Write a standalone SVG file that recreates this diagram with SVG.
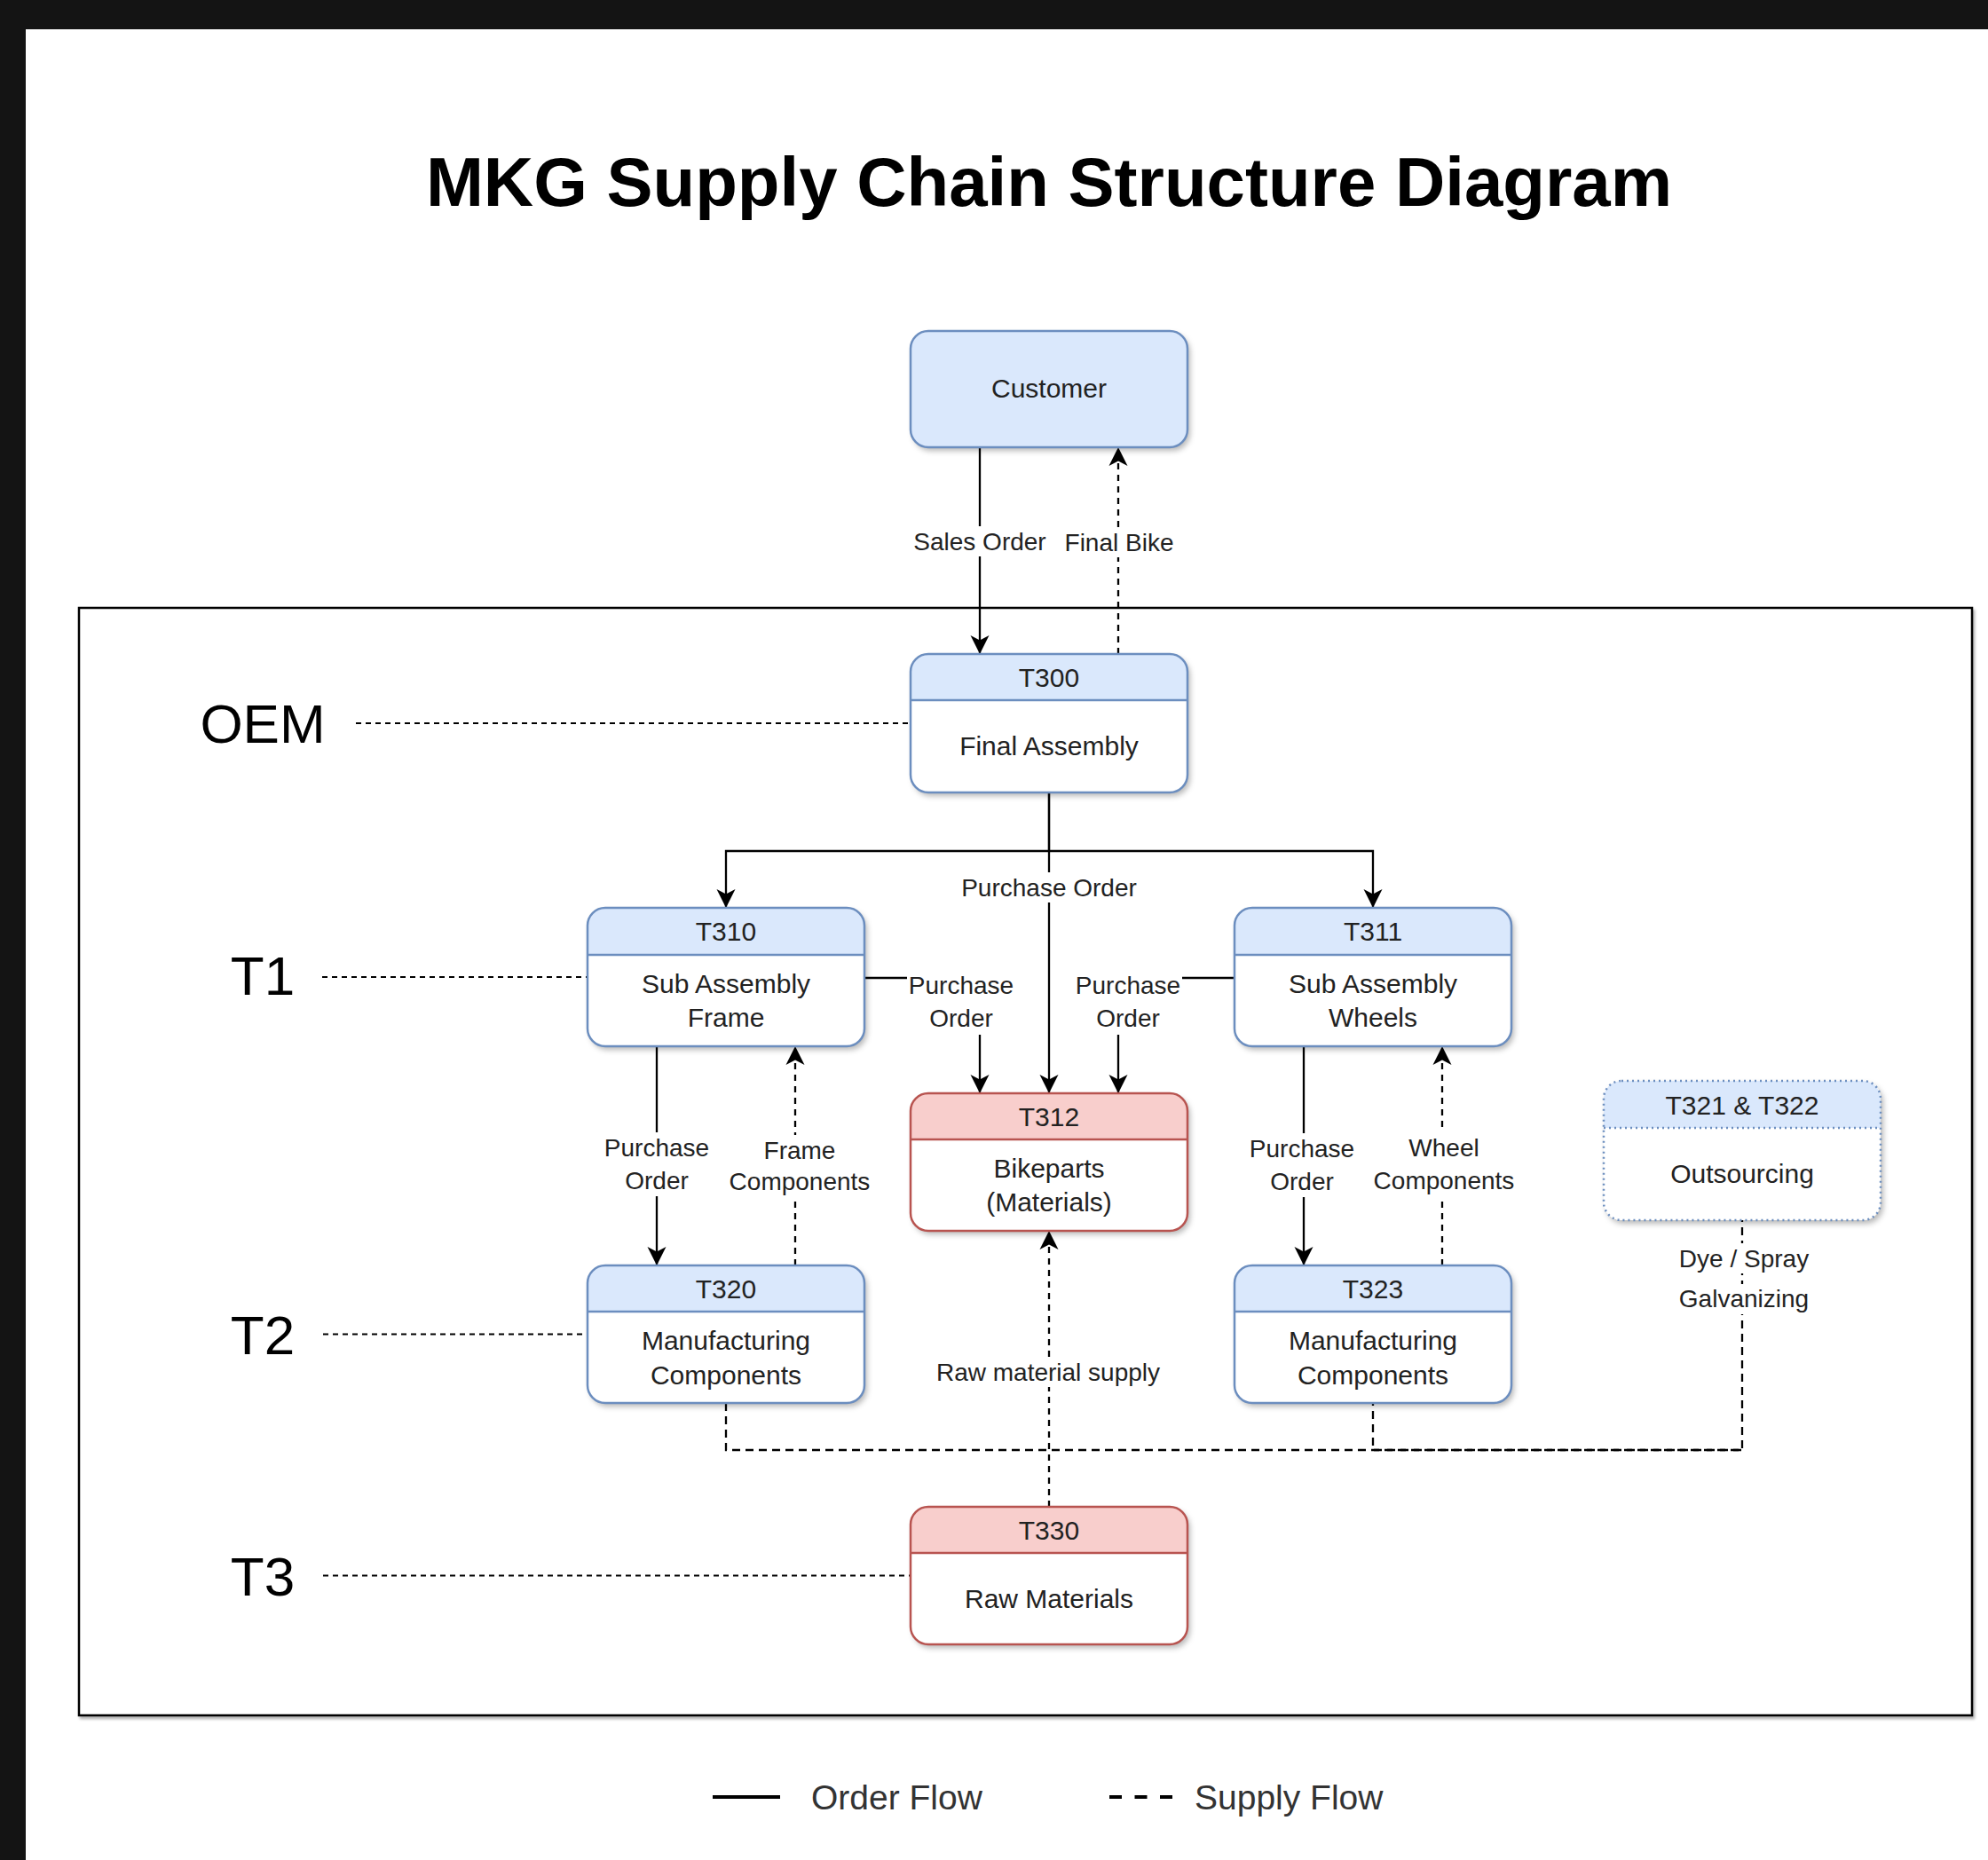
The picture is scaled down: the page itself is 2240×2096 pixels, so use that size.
<svg xmlns="http://www.w3.org/2000/svg" width="2240" height="2096" viewBox="0 0 2240 2096">
<style>
text{font-family:"Liberation Sans",Arial,Helvetica,sans-serif;}
.title{font-size:78px;font-weight:bold;fill:#000;text-anchor:middle;}
.lane{font-size:62px;fill:#000;text-anchor:middle;}
.nt{font-size:30px;fill:#222;text-anchor:middle;}
.lb{font-size:28px;fill:#222;text-anchor:middle;}
.leg{font-size:39px;fill:#333;}
.lbg{fill:#fff;}
.bbody{fill:#fff;}
.bhead{fill:#dae8fc;}
.rhead{fill:#f8cecc;}
.bline{fill:none;stroke:#6c8ebf;stroke-width:2.5;}
.rline{fill:none;stroke:#b85450;stroke-width:2.5;}
.dotline{fill:none;stroke:#6c8ebf;stroke-width:2.5;stroke-dasharray:2 4;}
.order{fill:none;stroke:#000;stroke-width:2.3;}
.supply{fill:none;stroke:#000;stroke-width:2.3;stroke-dasharray:7 6;}
.supplyh{fill:none;stroke:#000;stroke-width:2.3;stroke-dasharray:9 6;}
.laneline{fill:none;stroke:#000;stroke-width:1.8;stroke-dasharray:6 5;}
</style>
<defs>
<filter id="sh" x="-10%" y="-10%" width="130%" height="130%">
<feDropShadow dx="3" dy="4" stdDeviation="3" flood-color="#000" flood-opacity="0.28"/>
</filter>
<filter id="shf" x="-2%" y="-2%" width="104%" height="104%">
<feDropShadow dx="2" dy="3" stdDeviation="1.5" flood-color="#000" flood-opacity="0.3"/>
</filter>
<marker id="arr" markerUnits="userSpaceOnUse" markerWidth="24" markerHeight="24" refX="21" refY="11" orient="auto">
<path d="M0,0.5 L21,11 L0,21.5 L5.5,11 Z" fill="#000"/>
</marker>
</defs>

<rect x="0" y="0" width="2240" height="2096" fill="#fff"/>
<rect x="0" y="0" width="2240" height="33" fill="#141414"/>
<rect x="0" y="0" width="29" height="2096" fill="#141414"/>

<text class="title" x="1182" y="232">MKG Supply Chain Structure Diagram</text>

<g id="frame">
<rect x="89" y="685" width="2133" height="1248" fill="#fff" stroke="#000" stroke-width="2.5" filter="url(#shf)"/>
</g>

<g id="lanes">
<text class="lane" x="296" y="837">OEM</text>
<text class="lane" x="296" y="1121">T1</text>
<text class="lane" x="296" y="1526">T2</text>
<text class="lane" x="296" y="1798">T3</text>
<path class="laneline" d="M401,815 H1026"/>
<path class="laneline" d="M363,1101 H662"/>
<path class="laneline" d="M364,1503.5 H662"/>
<path class="laneline" d="M364,1775.5 H1026"/>
</g>

<g id="connectors">
<path class="order" d="M1104,504 V737" marker-end="url(#arr)"/>
<path class="supply" d="M1260,737 V504" marker-end="url(#arr)"/>
<path class="order" d="M1182,893 V959 H818 V1023" marker-end="url(#arr)"/>
<path class="order" d="M1182,959 H1547 V1023" marker-end="url(#arr)"/>
<path class="order" d="M1182,893 V1232" marker-end="url(#arr)"/>
<path class="order" d="M974,1102 H1104 V1232" marker-end="url(#arr)"/>
<path class="order" d="M1391,1102 H1260 V1232" marker-end="url(#arr)"/>
<path class="order" d="M740,1179 V1426" marker-end="url(#arr)"/>
<path class="supply" d="M896,1426 V1179" marker-end="url(#arr)"/>
<path class="order" d="M1469,1179 V1426" marker-end="url(#arr)"/>
<path class="supply" d="M1625,1426 V1179" marker-end="url(#arr)"/>
<path class="supply" d="M1182,1698 V1387" marker-end="url(#arr)"/>
<path class="supplyh" d="M818,1581 V1634 H1963 V1375"/>
<path class="supplyh" d="M1547,1581 V1634 H1963" stroke-dashoffset="6"/>

<rect class="lbg" x="1027" y="593" width="154" height="34"/>
<text class="lb" x="1104" y="620">Sales Order</text>
<rect class="lbg" x="1197" y="594" width="128" height="34"/>
<text class="lb" x="1261" y="621">Final Bike</text>
<rect class="lbg" x="1081" y="983" width="202" height="34"/>
<text class="lb" x="1182" y="1010">Purchase Order</text>
<rect class="lbg" x="1022" y="1092" width="122" height="74"/>
<text class="lb" x="1083" y="1120">Purchase</text>
<text class="lb" x="1083" y="1157">Order</text>
<rect class="lbg" x="1210" y="1092" width="122" height="74"/>
<text class="lb" x="1271" y="1120">Purchase</text>
<text class="lb" x="1271" y="1157">Order</text>
<rect class="lbg" x="679" y="1276" width="122" height="72"/>
<text class="lb" x="740" y="1303">Purchase</text>
<text class="lb" x="740" y="1340">Order</text>
<rect class="lbg" x="819" y="1279" width="164" height="70"/>
<text class="lb" x="901" y="1306">Frame</text>
<text class="lb" x="901" y="1341">Components</text>
<rect class="lbg" x="1406" y="1277" width="122" height="72"/>
<text class="lb" x="1467" y="1304">Purchase</text>
<text class="lb" x="1467" y="1341">Order</text>
<rect class="lbg" x="1545" y="1276" width="164" height="72"/>
<text class="lb" x="1627" y="1303">Wheel</text>
<text class="lb" x="1627" y="1340">Components</text>
<rect class="lbg" x="1046" y="1529" width="270" height="34"/>
<text class="lb" x="1181" y="1556">Raw material supply</text>
<rect class="lbg" x="1890" y="1401" width="150" height="34"/>
<text class="lb" x="1965" y="1428">Dye / Spray</text>
<rect class="lbg" x="1890" y="1447" width="150" height="34"/>
<text class="lb" x="1965" y="1473">Galvanizing</text>
</g>

<g id="customer">
<rect x="1026" y="373" width="312" height="131" rx="20" class="bhead" filter="url(#sh)"/>
<rect x="1026" y="373" width="312" height="131" rx="20" class="bline"/>
<text class="nt" x="1182" y="448">Customer</text>
</g>

<g id="t300">
<rect x="1026" y="737" width="312" height="156" rx="20" class="bbody" filter="url(#sh)"/>
<path class="bhead" d="M1026,789 V757 A20,20 0 0 1 1046,737 H1318 A20,20 0 0 1 1338,757 V789 Z"/>
<rect x="1026" y="737" width="312" height="156" rx="20" class="bline"/>
<path class="bline" d="M1026,789 H1338"/>
<text class="nt" x="1182" y="774">T300</text>
<text class="nt" x="1182" y="851">Final Assembly</text>
</g>

<g id="t310">
<rect x="662" y="1023" width="312" height="156" rx="20" class="bbody" filter="url(#sh)"/>
<path class="bhead" d="M662,1076 V1043 A20,20 0 0 1 682,1023 H954 A20,20 0 0 1 974,1043 V1076 Z"/>
<rect x="662" y="1023" width="312" height="156" rx="20" class="bline"/>
<path class="bline" d="M662,1076 H974"/>
<text class="nt" x="818" y="1060">T310</text>
<text class="nt" x="818" y="1119">Sub Assembly</text>
<text class="nt" x="818" y="1157">Frame</text>
</g>

<g id="t311">
<rect x="1391" y="1023" width="312" height="156" rx="20" class="bbody" filter="url(#sh)"/>
<path class="bhead" d="M1391,1076 V1043 A20,20 0 0 1 1411,1023 H1683 A20,20 0 0 1 1703,1043 V1076 Z"/>
<rect x="1391" y="1023" width="312" height="156" rx="20" class="bline"/>
<path class="bline" d="M1391,1076 H1703"/>
<text class="nt" x="1547" y="1060">T311</text>
<text class="nt" x="1547" y="1119">Sub Assembly</text>
<text class="nt" x="1547" y="1157">Wheels</text>
</g>

<g id="t312">
<rect x="1026" y="1232" width="312" height="155" rx="20" class="bbody" filter="url(#sh)"/>
<path class="rhead" d="M1026,1284 V1252 A20,20 0 0 1 1046,1232 H1318 A20,20 0 0 1 1338,1252 V1284 Z"/>
<rect x="1026" y="1232" width="312" height="155" rx="20" class="rline"/>
<path class="rline" d="M1026,1284 H1338"/>
<text class="nt" x="1182" y="1269">T312</text>
<text class="nt" x="1182" y="1327">Bikeparts</text>
<text class="nt" x="1182" y="1365">(Materials)</text>
</g>

<g id="t321_322">
<rect x="1807" y="1218" width="312" height="157" rx="20" class="bbody" filter="url(#sh)"/>
<path class="bhead" d="M1807,1271 V1238 A20,20 0 0 1 1827,1218 H2099 A20,20 0 0 1 2119,1238 V1271 Z"/>
<rect x="1807" y="1218" width="312" height="157" rx="20" class="dotline"/>
<path class="dotline" d="M1807,1271 H2119"/>
<text class="nt" x="1963" y="1256">T321 &amp; T322</text>
<text class="nt" x="1963" y="1333">Outsourcing</text>
</g>

<g id="t320">
<rect x="662" y="1426" width="312" height="155" rx="20" class="bbody" filter="url(#sh)"/>
<path class="bhead" d="M662,1478 V1446 A20,20 0 0 1 682,1426 H954 A20,20 0 0 1 974,1446 V1478 Z"/>
<rect x="662" y="1426" width="312" height="155" rx="20" class="bline"/>
<path class="bline" d="M662,1478 H974"/>
<text class="nt" x="818" y="1463">T320</text>
<text class="nt" x="818" y="1521">Manufacturing</text>
<text class="nt" x="818" y="1560">Components</text>
</g>

<g id="t323">
<rect x="1391" y="1426" width="312" height="155" rx="20" class="bbody" filter="url(#sh)"/>
<path class="bhead" d="M1391,1478 V1446 A20,20 0 0 1 1411,1426 H1683 A20,20 0 0 1 1703,1446 V1478 Z"/>
<rect x="1391" y="1426" width="312" height="155" rx="20" class="bline"/>
<path class="bline" d="M1391,1478 H1703"/>
<text class="nt" x="1547" y="1463">T323</text>
<text class="nt" x="1547" y="1521">Manufacturing</text>
<text class="nt" x="1547" y="1560">Components</text>
</g>

<g id="t330">
<rect x="1026" y="1698" width="312" height="155" rx="20" class="bbody" filter="url(#sh)"/>
<path class="rhead" d="M1026,1750 V1718 A20,20 0 0 1 1046,1698 H1318 A20,20 0 0 1 1338,1718 V1750 Z"/>
<rect x="1026" y="1698" width="312" height="155" rx="20" class="rline"/>
<path class="rline" d="M1026,1750 H1338"/>
<text class="nt" x="1182" y="1735">T330</text>
<text class="nt" x="1182" y="1812">Raw Materials</text>
</g>

<g id="legend">
<path d="M803,2025 H879" stroke="#000" stroke-width="4" fill="none"/>
<text class="leg" x="914" y="2039">Order Flow</text>
<path d="M1250,2025 H1321" stroke="#000" stroke-width="4" fill="none" stroke-dasharray="14 14.5"/>
<text class="leg" x="1346" y="2039">Supply Flow</text>
</g>
</svg>
